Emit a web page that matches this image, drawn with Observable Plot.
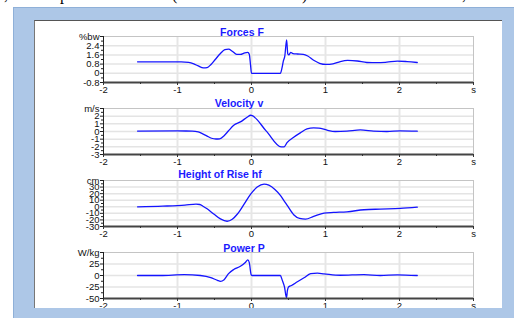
<!DOCTYPE html>
<html><head><meta charset="utf-8">
<script src="https://cdn.jsdelivr.net/npm/d3@7"></script>
<script src="https://cdn.jsdelivr.net/npm/@observablehq/plot@0.6"></script>
<style>
html,body{margin:0;padding:0;width:514px;height:318px;overflow:hidden;background:#fff;font-family:"Liberation Sans",Arial,sans-serif;}
#top{position:absolute;left:0;top:0;width:514px;height:7px;overflow:hidden;font-family:"Liberation Serif",serif;font-size:16px;line-height:16px;}
#top span{position:absolute;top:-13px;}
#blue{position:absolute;left:13px;top:7px;width:501px;height:311px;background:#adc7e7;border-left:1px solid #8fb0d8;border-top:1px solid #8fb0d8;box-sizing:border-box;}
#panel{position:absolute;left:34px;top:20px;width:468px;height:288px;background:#fff;overflow:hidden;border-top:1px solid #555;border-left:1px solid #777;box-sizing:border-box;}
.chart{position:absolute;left:0;}
.title{position:absolute;font-weight:bold;font-size:10.5px;color:#1a1aff;line-height:12px;white-space:nowrap;transform:translateX(-50%);}
</style></head>
<body>
<div id="top"><span style="left:4px">,</span><span style="left:60px">p</span><span style="left:172px">(</span><span style="left:302px">)</span><span style="left:462px">,</span></div>
<div id="blue"></div>
<div id="panel"></div>
<script>
// ---- data ----
const xTicks = [-2, -1, 0, 1, 2, 3];
const xMinor = [-1.5, -0.5, 0.5, 1.5, 2.5];
const xGrid = [-1, 0, 1, 2];
const xUnit = "s";

const titles = ["Forces F", "Velocity v", "Height of Rise hf", "Power P"];
const units = ["%bw", "m/s", "cm", "W/kg"];

const forceTicks = [-0.8, 0, 0.8, 1.6, 2.4, 3.2];
const velTicks = [-3, -2, -1, 0, 1, 2, 3];
const heightTicks = [-30, -20, -10, 0, 10, 20, 30, 40];
const powerTicks = [-50, -25, 0, 25, 50];

const forceT = [-1.54,-1.2,-0.95,-0.85,-0.78,-0.72,-0.65,-0.6,-0.55,-0.49,-0.42,-0.36,-0.31,-0.26,-0.2,-0.15,-0.09,-0.05,-0.03,-0.014,0.0,0.39,0.41,0.43,0.45,0.475,0.49,0.505,0.53,0.56,0.62,0.7,0.76,0.84,0.92,1.01,1.1,1.2,1.3,1.43,1.56,1.7,1.83,1.97,2.1,2.24];
const forceV = [1.0,1.0,1.0,0.95,0.82,0.64,0.47,0.5,0.75,1.2,1.72,2.05,2.1,1.92,1.65,1.64,1.78,1.82,1.65,0.8,0.0,0.0,0.4,1.05,1.5,2.9,1.7,1.6,1.82,1.72,1.68,1.65,1.5,1.13,0.87,0.77,0.82,1.02,1.12,1.07,0.94,0.92,0.97,1.06,1.02,0.94];

const velT = [-1.54,-1.0,-0.8,-0.72,-0.66,-0.6,-0.54,-0.48,-0.43,-0.37,-0.31,-0.24,-0.15,-0.06,-0.01,0.2,0.4,0.44,0.48,0.57,0.66,0.75,0.84,0.91,1.02,1.13,1.29,1.47,1.65,1.83,2.01,2.24];
const velV = [0.05,0.07,0.06,-0.05,-0.3,-0.6,-0.88,-0.98,-0.95,-0.55,0.1,0.8,1.25,1.85,2.12,0.05,-2.0,-2.0,-1.45,-0.75,-0.18,0.35,0.48,0.45,0.18,0.0,0.05,0.2,0.06,0.0,0.09,0.05];

const heightT = [-1.54,-1.2,-0.9,-0.75,-0.7,-0.65,-0.6,-0.51,-0.42,-0.33,-0.26,-0.19,-0.1,-0.014,0.077,0.17,0.234,0.32,0.39,0.44,0.48,0.57,0.65,0.73,0.84,0.98,1.11,1.29,1.52,1.74,2.01,2.24];
const heightV = [0,1,2.5,4,3.5,0.5,-3,-11,-18.5,-22,-19,-11,4,19,30,34.5,33,26,17.5,9,2.5,-12,-17.7,-18.7,-14.7,-9.6,-8.6,-7.6,-4.5,-3.5,-2.5,-0.5];

const powerT = [-1.54,-1.23,-0.91,-0.69,-0.55,-0.46,-0.42,-0.37,-0.31,-0.24,-0.15,-0.08,-0.05,-0.03,-0.004,0.01,0.39,0.415,0.446,0.473,0.485,0.5,0.54,0.62,0.71,0.8,0.89,0.98,1.2,1.52,1.74,1.97,2.24];
const powerV = [0,0,2,0,-4.6,-10.6,-12.6,-9,4,13,20,29,34,28,1.5,0,0,-10,-25,-48,-33,-25,-21.7,-13.7,-5,4,5,3.6,0.5,2,0,1.5,0];

// ---- layout ----
const series = [
  {T: forceT, V: forceV, ticks: forceTicks},
  {T: velT, V: velV, ticks: velTicks},
  {T: heightT, V: heightV, ticks: heightTicks},
  {T: powerT, V: powerV, ticks: powerTicks}
];
const titleX = [207, 204, 185, 209];
const titleY = [5.4, 76.4, 147.4, 221.4];

const panelDiv = document.getElementById("panel");

series.forEach((s, i) => {
  const ticks = s.ticks;
  const lo = ticks[0], hi = ticks[ticks.length - 1];
  const step = ticks[1] - ticks[0];
  const yMinor = ticks.slice(0, -1).map(d => d + step / 2);
  const data = s.T.map((t, k) => ({t, v: s.V[k]}));
  const chart = Plot.plot({
    width: 466, height: 77,
    marginLeft: 68, marginRight: 28, marginTop: 15, marginBottom: 16,
    style: {fontFamily: "'Liberation Sans', Arial, sans-serif", fontSize: "9.5px", color: "#111", background: "transparent", overflow: "visible"},
    x: {domain: [-2, 3], label: null},
    y: {domain: [lo, hi], label: null},
    marks: [
      Plot.ruleY(ticks.slice(1, -1), {stroke: "#e4e4e4", strokeWidth: 1.5}),
      Plot.ruleX(xGrid, {stroke: "#e6e6e6", strokeWidth: 2}),
      Plot.frame({stroke: "#c4c4c4"}),
      Plot.line(data, {x: "t", y: "v", stroke: "#1414ff", strokeWidth: 1.3, curve: "monotone-x"}),
      Plot.ruleY([lo], {stroke: "#444", strokeWidth: 2}),
      Plot.ruleX([-2], {stroke: "#222", strokeWidth: 1}),
      Plot.axisX(xTicks, {tickSize: 3, tickPadding: 1, stroke: "#333", fill: "#111", tickFormat: d => d === 3 ? xUnit : String(d)}),
      Plot.axisX(xMinor, {tickSize: 2, stroke: "#333", tickFormat: () => ""}),
      Plot.axisY(ticks, {tickSize: 3, tickPadding: 1, stroke: "#222", fill: "#111", tickFormat: d => d === hi ? units[i] : String(d)}),
      Plot.axisY(yMinor, {tickSize: 2, stroke: "#222", tickFormat: () => ""})
    ]
  });
  chart.classList.add("chart");
  chart.style.top = (72 * i) + "px";
  panelDiv.appendChild(chart);
});

titles.forEach((t, i) => {
  const d = document.createElement("div");
  d.className = "title";
  d.textContent = t;
  d.style.left = titleX[i] + "px";
  d.style.top = titleY[i] + "px";
  panelDiv.appendChild(d);
});
</script>
</body></html>
